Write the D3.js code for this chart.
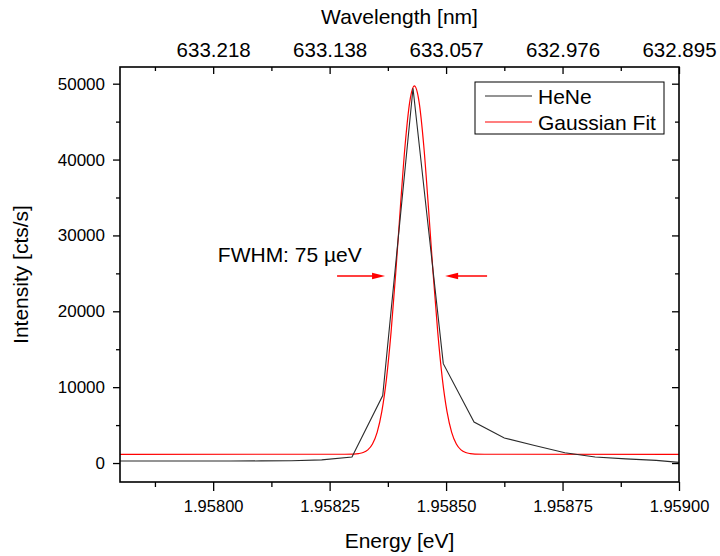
<!DOCTYPE html>
<html>
<head>
<meta charset="utf-8">
<script src="https://cdn.jsdelivr.net/npm/d3@7"></script>
<style>
  body { margin: 0; background: #fff; }
  text { font-family: "Liberation Sans", Arial, sans-serif; fill: #000; }
</style>
</head>
<body>
<div class="chart-section"></div>
<script>
// HeNe spectrum (energy in eV, intensity in cts/s)
const heneEnergy = [
  1.957776, 1.957842, 1.957907, 1.957972, 1.958037, 1.958103, 1.958168,
  1.958233, 1.958298, 1.958364, 1.958429, 1.958494, 1.95856, 1.958625,
  1.95869, 1.958755, 1.95882, 1.958886, 1.958951, 1.959016,
];
const heneCounts = [
  270, 270, 270, 270, 270, 280, 300,
  420, 800, 8900, 49400, 13100, 5400, 3300,
  2300, 1350, 800, 550, 350, 0,
];

// Gaussian fit curve
const fitEnergy = [
  1.9578, 1.958282, 1.958302, 1.958312, 1.958322, 1.958332, 1.958342,
  1.958352, 1.958362, 1.958372, 1.958382, 1.958392, 1.958402, 1.958412,
  1.958422, 1.958432, 1.958442, 1.958452, 1.958462, 1.958472, 1.958482,
  1.958492, 1.958502, 1.958512, 1.958522, 1.958532, 1.958542, 1.958552,
  1.958562, 1.958582, 1.959,
];
const fitCounts = [
  1150, 1160, 1180, 1240, 1380, 1740, 2520,
  4050, 6780, 11100, 17320, 25130, 33820, 41880,
  47610, 49700, 47610, 41880, 33820, 25130, 17320,
  11100, 6780, 4050, 2520, 1740, 1380, 1240,
  1180, 1160, 1150,
];

const energyTicks = [1.958, 1.95825, 1.9585, 1.95875, 1.959];
const energyMinorTicks = [1.957875, 1.958125, 1.958375, 1.958625, 1.958875];
const wavelengthLabels = ["633.218", "633.138", "633.057", "632.976", "632.895"];
const countTicks = [0, 10000, 20000, 30000, 40000, 50000];
const countMinorTicks = [5000, 15000, 25000, 35000, 45000];

const seriesNames = ["HeNe", "Gaussian Fit"];
const seriesColors = ["#2b2b2b", "#ff0000"];

// FWHM annotation: text anchor and the two arrows (from -> to), in data units
const fwhmLabel = "FWHM: 75 \u00b5eV";
const fwhmText = [1.95801, 26500];
const fwhmArrows = [
  [[1.958266, 24650], [1.958369, 24650]],
  [[1.958588, 24650], [1.958498, 24650]],
];

const width = 720;
const height = 556;
const plot = { left: 120, right: 679, top: 67, bottom: 482 };

const svg = d3
  .select(".chart-section")
  .append("svg")
  .attr("width", width)
  .attr("height", height);

const x = d3.scaleLinear().domain([1.9578, 1.959]).range([plot.left, plot.right]);
const y = d3.scaleLinear().domain([-2500, 52200]).range([plot.bottom, plot.top]);

svg
  .append("clipPath")
  .attr("id", "clip")
  .append("rect")
  .attr("x", plot.left)
  .attr("y", plot.top)
  .attr("width", plot.right - plot.left)
  .attr("height", plot.bottom - plot.top);

const styleAxis = (g, size) => {
  g.select(".domain").remove();
  g.selectAll(".tick line").attr("stroke", "#000").attr("stroke-width", 1.3);
  g.selectAll(".tick text").attr("font-size", size).attr("fill", "#000");
  g.attr("font-family", null);
};

// bottom axis (outward ticks)
svg
  .append("g")
  .attr("transform", `translate(0,${plot.bottom})`)
  .call(
    d3.axisBottom(x).tickValues(energyTicks).tickFormat(d3.format(".5f")).tickSize(9).tickPadding(9)
  )
  .call((g) => styleAxis(g, 16.5));
svg
  .append("g")
  .attr("transform", `translate(0,${plot.bottom})`)
  .call(d3.axisBottom(x).tickValues(energyMinorTicks).tickFormat("").tickSize(5))
  .call((g) => styleAxis(g, 0));

// top axis (inward ticks, wavelength labels)
svg
  .append("g")
  .attr("transform", `translate(0,${plot.top})`)
  .call(
    d3.axisTop(x).tickValues(energyTicks).tickFormat((d, i) => wavelengthLabels[i]).tickSize(-7).tickPadding(10)
  )
  .call((g) => styleAxis(g, 20.5));
svg
  .append("g")
  .attr("transform", `translate(0,${plot.top})`)
  .call(d3.axisTop(x).tickValues(energyMinorTicks).tickFormat("").tickSize(-4))
  .call((g) => styleAxis(g, 0));

// left axis (outward)
svg
  .append("g")
  .attr("transform", `translate(${plot.left},0)`)
  .call(d3.axisLeft(y).tickValues(countTicks).tickFormat(d3.format("d")).tickSize(7).tickPadding(8))
  .call((g) => styleAxis(g, 17));
svg
  .append("g")
  .attr("transform", `translate(${plot.left},0)`)
  .call(d3.axisLeft(y).tickValues(countMinorTicks).tickFormat("").tickSize(4))
  .call((g) => styleAxis(g, 0));

// right axis (inward, no labels)
svg
  .append("g")
  .attr("transform", `translate(${plot.right},0)`)
  .call(d3.axisRight(y).tickValues(countTicks).tickFormat("").tickSize(-7))
  .call((g) => styleAxis(g, 0));
svg
  .append("g")
  .attr("transform", `translate(${plot.right},0)`)
  .call(d3.axisRight(y).tickValues(countMinorTicks).tickFormat("").tickSize(-4))
  .call((g) => styleAxis(g, 0));

// data lines
const heneLine = d3
  .line()
  .x((d, i) => x(heneEnergy[i]))
  .y((d) => y(d));
const fitLine = d3
  .line()
  .x((d, i) => x(fitEnergy[i]))
  .y((d) => y(d))
  .curve(d3.curveMonotoneX);

const lines = svg.append("g").attr("clip-path", "url(#clip)");
lines
  .append("path")
  .attr("fill", "none")
  .attr("stroke", seriesColors[1])
  .attr("stroke-width", 1.2)
  .attr("d", fitLine(fitCounts));
lines
  .append("path")
  .attr("fill", "none")
  .attr("stroke", seriesColors[0])
  .attr("stroke-width", 1.1)
  .attr("d", heneLine(heneCounts));

// frame
svg
  .append("rect")
  .attr("x", plot.left)
  .attr("y", plot.top)
  .attr("width", plot.right - plot.left)
  .attr("height", plot.bottom - plot.top)
  .attr("fill", "none")
  .attr("stroke", "#000")
  .attr("stroke-width", 1.6);

// FWHM annotation
svg
  .append("text")
  .attr("x", x(fwhmText[0]))
  .attr("y", y(fwhmText[1]))
  .attr("font-size", 21)
  .text(fwhmLabel);

fwhmArrows.forEach(([from, to]) => {
  const x0 = x(from[0]);
  const x1 = x(to[0]);
  const yy = y(from[1]);
  const dir = Math.sign(x1 - x0);
  svg
    .append("line")
    .attr("x1", x0)
    .attr("x2", x1 - dir * 6)
    .attr("y1", yy)
    .attr("y2", yy)
    .attr("stroke", "#ff0000")
    .attr("stroke-width", 1.6);
  svg
    .append("path")
    .attr("fill", "#ff0000")
    .attr(
      "d",
      `M${x1},${yy} L${x1 - dir * 13},${yy - 3.2} L${x1 - dir * 13},${yy + 3.2} Z`
    );
});

// legend
const legend = svg.append("g").attr("id", "legend");
legend
  .append("rect")
  .attr("x", 475)
  .attr("y", 82)
  .attr("width", 189)
  .attr("height", 52)
  .attr("fill", "#fff")
  .attr("stroke", "#000")
  .attr("stroke-width", 1);
seriesNames.forEach((name, i) => {
  const ly = 96 + i * 26;
  legend
    .append("line")
    .attr("x1", 485)
    .attr("x2", 532)
    .attr("y1", ly)
    .attr("y2", ly)
    .attr("stroke", seriesColors[i])
    .attr("stroke-width", 1.2);
  legend
    .append("text")
    .attr("x", 538)
    .attr("y", ly + 7.5)
    .attr("font-size", 21)
    .text(name);
});

// axis titles
svg
  .append("text")
  .attr("x", (plot.left + plot.right) / 2)
  .attr("y", 24)
  .attr("text-anchor", "middle")
  .attr("font-size", 21)
  .text("Wavelength [nm]");
svg
  .append("text")
  .attr("x", (plot.left + plot.right) / 2)
  .attr("y", 548)
  .attr("text-anchor", "middle")
  .attr("font-size", 21)
  .text("Energy [eV]");
svg
  .append("text")
  .attr("transform", `translate(28,${(plot.top + plot.bottom) / 2}) rotate(-90)`)
  .attr("text-anchor", "middle")
  .attr("font-size", 21)
  .text("Intensity [cts/s]");
</script>
</body>
</html>
